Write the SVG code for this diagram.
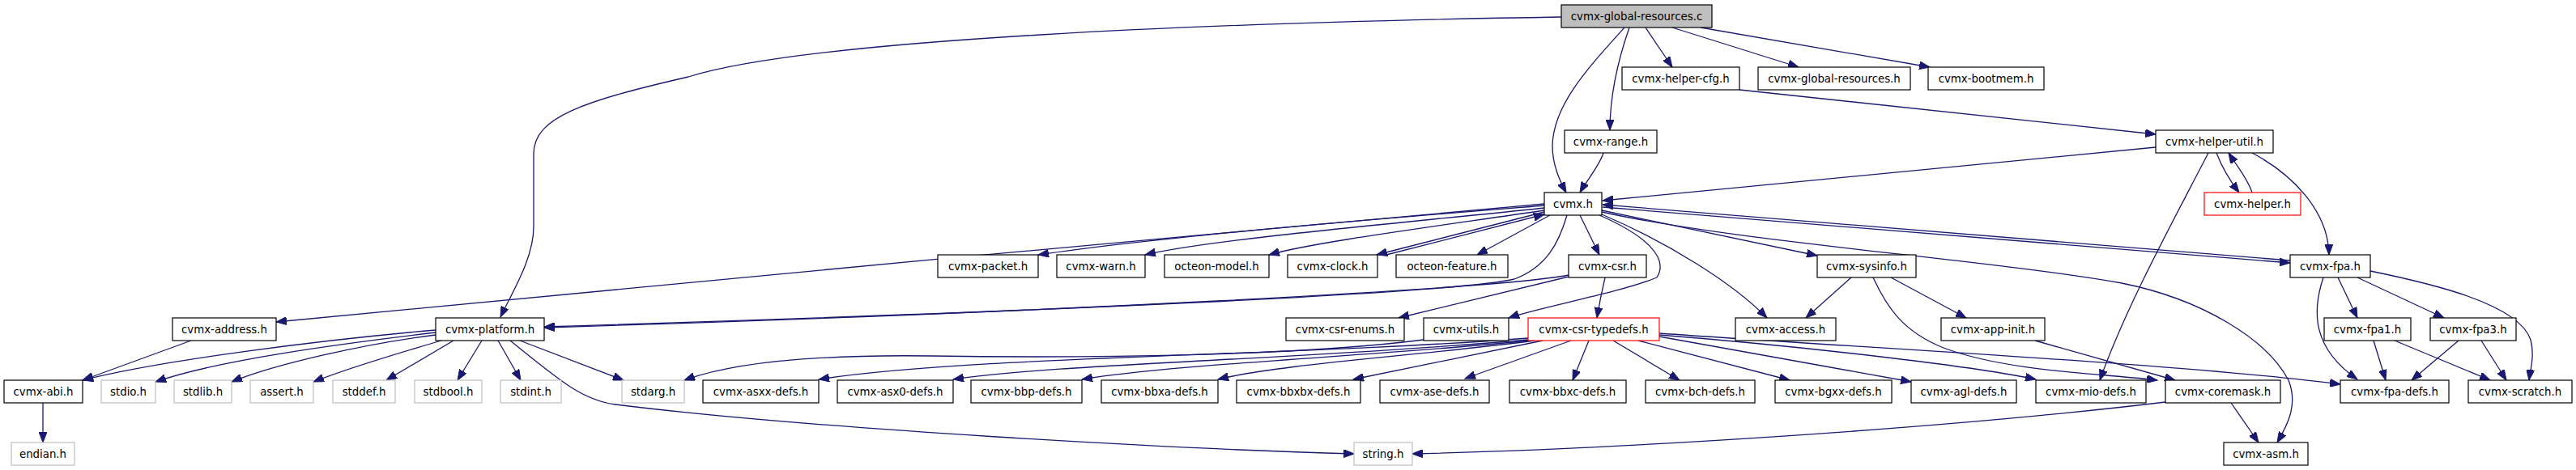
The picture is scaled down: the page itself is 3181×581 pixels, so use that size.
<svg xmlns="http://www.w3.org/2000/svg" width="3181" height="581" viewBox="0 0 3181 581">
<style>
rect{fill:#fff;stroke:#000;stroke-width:1.2}
rect.m{fill:#bfbfbf}
rect.u{stroke:#bfbfbf}
rect.r{stroke:#f00}
text{font-family:"DejaVu Sans","Liberation Sans",sans-serif;font-size:13.33px;text-anchor:middle;fill:#000}
#edges path{fill:none;stroke:#191970;stroke-width:1.3;marker-end:url(#a)}
</style>
<defs>
<marker id="a" markerWidth="14" markerHeight="10" refX="13" refY="5" orient="auto" markerUnits="userSpaceOnUse">
<path d="M0,0 L13,5 L0,10 z" fill="#191970" stroke="#191970" stroke-width="1"/>
</marker>
</defs>
<rect x="0" y="0" width="3181" height="581" style="fill:#fff;stroke:none"/>
<g id="edges">
<path d="M1928,21 C1500,28 1000,48 850,95 C720,125 659,145 659,190 L659,280 C659,320 632,362 618,392"/>
<path d="M2006,34 C1960,85 1918,130 1917,180 C1917,205 1927,225 1934,238"/>
<path d="M2012,34 C1996,80 1988,120 1988,161"/>
<path d="M2032,34 L2065,83"/>
<path d="M2065,34 L2221,83"/>
<path d="M2100,34 L2383,83"/>
<path d="M1980,189 C1975,205 1960,222 1951,238"/>
<path d="M2148,111 L2662,166"/>
<path d="M2662,182 L1979,248"/>
<path d="M2737,189 C2745,210 2755,225 2765,238"/>
<path d="M2781,238 C2775,220 2762,205 2752,189"/>
<path d="M2781,189 C2830,215 2875,260 2876,315"/>
<path d="M2727,189 C2680,280 2625,380 2593,470"/>
<path d="M1907,252 C1500,290 700,360 341,398"/>
<path d="M1907,254 C1750,267 1450,290 1282,315"/>
<path d="M1907,257 C1750,274 1500,295 1414,315"/>
<path d="M1907,260 C1750,283 1620,300 1567,315"/>
<path d="M1907,262 L1700,315"/>
<path d="M1712,315 L1907,265"/>
<path d="M1914,266 L1824,315"/>
<path d="M1951,266 L1975,315"/>
<path d="M1935,266 C1925,300 1910,330 1870,345 C1800,362 1300,385 672,404"/>
<path d="M1937,340 C1850,357 1300,386 672,405"/>
<path d="M1937,342 L1727,393"/>
<path d="M1982,343 C1978,360 1975,375 1972,393"/>
<path d="M1975,266 C2030,290 2062,318 2046,343 C2000,362 1900,380 1863,393"/>
<path d="M1978,265 C2060,300 2140,350 2182,393"/>
<path d="M1978,260 L2244,316"/>
<path d="M1979,256 L2828,325"/>
<path d="M2828,322 L1979,253"/>
<path d="M1978,262 C2150,300 2450,320 2620,350 C2720,370 2800,420 2826,470 C2838,500 2825,525 2812,547"/>
<path d="M2286,343 L2230,393"/>
<path d="M2335,343 L2428,393"/>
<path d="M2313,343 C2330,380 2350,410 2400,430 C2480,460 2600,462 2664,470"/>
<path d="M2513,421 L2686,470"/>
<path d="M2755,498 L2789,547"/>
<path d="M2674,497 C2400,530 2000,555 1744,561"/>
<path d="M538,408 C400,420 200,445 102,470"/>
<path d="M538,411 C420,425 270,445 192,472"/>
<path d="M538,414 C450,425 340,450 286,472"/>
<path d="M545,421 C480,440 430,455 387,472"/>
<path d="M560,421 L477,470"/>
<path d="M595,421 L565,470"/>
<path d="M615,421 L643,470"/>
<path d="M642,421 L770,470"/>
<path d="M630,421 C690,470 720,495 760,500 C1000,530 1450,555 1672,561"/>
<path d="M236,421 L102,470"/>
<path d="M53,498 L53,547"/>
<path d="M1758,420 C1600,440 1350,443 1150,440 C1000,438 900,450 845,470"/>
<path d="M1887,418 C1600,440 1200,440 1011,469"/>
<path d="M1887,420 C1600,445 1300,450 1177,469"/>
<path d="M1890,421 C1700,440 1450,450 1336,469"/>
<path d="M1895,421 C1750,440 1580,450 1504,469"/>
<path d="M1905,421 L1671,469"/>
<path d="M1940,421 L1809,468"/>
<path d="M1962,421 L1942,470"/>
<path d="M1992,421 L2074,470"/>
<path d="M2023,421 L2210,470"/>
<path d="M2049,416 L2360,472"/>
<path d="M2049,414 C2250,430 2450,455 2514,469"/>
<path d="M2049,412 C2300,430 2700,450 2890,475"/>
<path d="M2869,343 C2855,385 2855,430 2911,469"/>
<path d="M2887,343 L2911,393"/>
<path d="M2911,343 L3018,393"/>
<path d="M2927,335 C3000,350 3110,375 3125,420 C3130,440 3125,455 3123,470"/>
<path d="M2931,421 L2946,470"/>
<path d="M2957,421 L3075,470"/>
<path d="M3036,421 L2978,470"/>
<path d="M3064,421 L3095,470"/>
</g>
<g id="n1"><rect class="m" x="1928" y="6" width="186" height="28"/><text x="2021" y="24.7">cvmx-global-resources.c</text></g>
<g id="n2"><rect x="2003" y="83" width="145" height="28"/><text x="2075.5" y="101.7">cvmx-helper-cfg.h</text></g>
<g id="n3"><rect x="2171" y="83" width="188" height="28"/><text x="2265" y="101.7">cvmx-global-resources.h</text></g>
<g id="n4"><rect x="2381" y="83" width="143" height="28"/><text x="2452.5" y="101.7">cvmx-bootmem.h</text></g>
<g id="n5"><rect x="1932" y="161" width="114" height="28"/><text x="1989" y="179.7">cvmx-range.h</text></g>
<g id="n6"><rect x="2662" y="161" width="145" height="28"/><text x="2734.5" y="179.7">cvmx-helper-util.h</text></g>
<g id="n7"><rect x="1907" y="238" width="71" height="28"/><text x="1942.5" y="256.7">cvmx.h</text></g>
<g id="n8"><rect class="r" x="2722" y="238" width="119" height="28"/><text x="2781.5" y="256.7">cvmx-helper.h</text></g>
<g id="n9"><rect x="1158" y="315" width="124" height="28"/><text x="1220" y="333.7">cvmx-packet.h</text></g>
<g id="n10"><rect x="1305" y="315" width="109" height="28"/><text x="1359.5" y="333.7">cvmx-warn.h</text></g>
<g id="n11"><rect x="1438" y="315" width="129" height="28"/><text x="1502.5" y="333.7">octeon-model.h</text></g>
<g id="n12"><rect x="1590" y="315" width="111" height="28"/><text x="1645.5" y="333.7">cvmx-clock.h</text></g>
<g id="n13"><rect x="1724" y="315" width="138" height="28"/><text x="1793" y="333.7">octeon-feature.h</text></g>
<g id="n14"><rect x="1937" y="315" width="96" height="28"/><text x="1985" y="333.7">cvmx-csr.h</text></g>
<g id="n15"><rect x="2244" y="315" width="122" height="28"/><text x="2305" y="333.7">cvmx-sysinfo.h</text></g>
<g id="n16"><rect x="2828" y="315" width="99" height="28"/><text x="2877.5" y="333.7">cvmx-fpa.h</text></g>
<g id="n17"><rect x="213" y="393" width="128" height="28"/><text x="277" y="411.7">cvmx-address.h</text></g>
<g id="n18"><rect x="538" y="393" width="134" height="28"/><text x="605" y="411.7">cvmx-platform.h</text></g>
<g id="n19"><rect x="1588" y="393" width="146" height="28"/><text x="1661" y="411.7">cvmx-csr-enums.h</text></g>
<g id="n20"><rect x="1758" y="393" width="105" height="28"/><text x="1810.5" y="411.7">cvmx-utils.h</text></g>
<g id="n21"><rect class="r" x="1887" y="393" width="162" height="28"/><text x="1968" y="411.7">cvmx-csr-typedefs.h</text></g>
<g id="n22"><rect x="2143" y="393" width="124" height="28"/><text x="2205" y="411.7">cvmx-access.h</text></g>
<g id="n23"><rect x="2397" y="393" width="128" height="28"/><text x="2461" y="411.7">cvmx-app-init.h</text></g>
<g id="n24"><rect x="2870" y="393" width="107" height="28"/><text x="2923.5" y="411.7">cvmx-fpa1.h</text></g>
<g id="n25"><rect x="3001" y="393" width="106" height="28"/><text x="3054" y="411.7">cvmx-fpa3.h</text></g>
<g id="n26"><rect x="5" y="470" width="97" height="28"/><text x="53.5" y="488.7">cvmx-abi.h</text></g>
<g id="n27"><rect class="u" x="125" y="470" width="67" height="28"/><text x="158.5" y="488.7">stdio.h</text></g>
<g id="n28"><rect class="u" x="215" y="470" width="71" height="28"/><text x="250.5" y="488.7">stdlib.h</text></g>
<g id="n29"><rect class="u" x="309" y="470" width="78" height="28"/><text x="348" y="488.7">assert.h</text></g>
<g id="n30"><rect class="u" x="411" y="470" width="77" height="28"/><text x="449.5" y="488.7">stddef.h</text></g>
<g id="n31"><rect class="u" x="512" y="470" width="83" height="28"/><text x="553.5" y="488.7">stdbool.h</text></g>
<g id="n32"><rect class="u" x="618" y="470" width="75" height="28"/><text x="655.5" y="488.7">stdint.h</text></g>
<g id="n33"><rect class="u" x="768" y="470" width="77" height="28"/><text x="806.5" y="488.7">stdarg.h</text></g>
<g id="n34"><rect x="868" y="470" width="143" height="28"/><text x="939.5" y="488.7">cvmx-asxx-defs.h</text></g>
<g id="n35"><rect x="1034" y="470" width="143" height="28"/><text x="1105.5" y="488.7">cvmx-asx0-defs.h</text></g>
<g id="n36"><rect x="1199" y="470" width="137" height="28"/><text x="1267.5" y="488.7">cvmx-bbp-defs.h</text></g>
<g id="n37"><rect x="1360" y="470" width="144" height="28"/><text x="1432" y="488.7">cvmx-bbxa-defs.h</text></g>
<g id="n38"><rect x="1527" y="470" width="153" height="28"/><text x="1603.5" y="488.7">cvmx-bbxbx-defs.h</text></g>
<g id="n39"><rect x="1704" y="470" width="135" height="28"/><text x="1771.5" y="488.7">cvmx-ase-defs.h</text></g>
<g id="n40"><rect x="1864" y="470" width="144" height="28"/><text x="1936" y="488.7">cvmx-bbxc-defs.h</text></g>
<g id="n41"><rect x="2032" y="470" width="135" height="28"/><text x="2099.5" y="488.7">cvmx-bch-defs.h</text></g>
<g id="n42"><rect x="2192" y="470" width="144" height="28"/><text x="2264" y="488.7">cvmx-bgxx-defs.h</text></g>
<g id="n43"><rect x="2360" y="470" width="130" height="28"/><text x="2425" y="488.7">cvmx-agl-defs.h</text></g>
<g id="n44"><rect x="2514" y="470" width="136" height="28"/><text x="2582" y="488.7">cvmx-mio-defs.h</text></g>
<g id="n45"><rect x="2674" y="470" width="142" height="28"/><text x="2745" y="488.7">cvmx-coremask.h</text></g>
<g id="n46"><rect x="2890" y="470" width="134" height="28"/><text x="2957" y="488.7">cvmx-fpa-defs.h</text></g>
<g id="n47"><rect x="3048" y="470" width="128" height="28"/><text x="3112" y="488.7">cvmx-scratch.h</text></g>
<g id="n48"><rect class="u" x="14" y="547" width="78" height="28"/><text x="53" y="565.7">endian.h</text></g>
<g id="n49"><rect class="u" x="1672" y="547" width="72" height="28"/><text x="1708" y="565.7">string.h</text></g>
<g id="n50"><rect x="2746" y="547" width="104" height="28"/><text x="2798" y="565.7">cvmx-asm.h</text></g>
</svg>
